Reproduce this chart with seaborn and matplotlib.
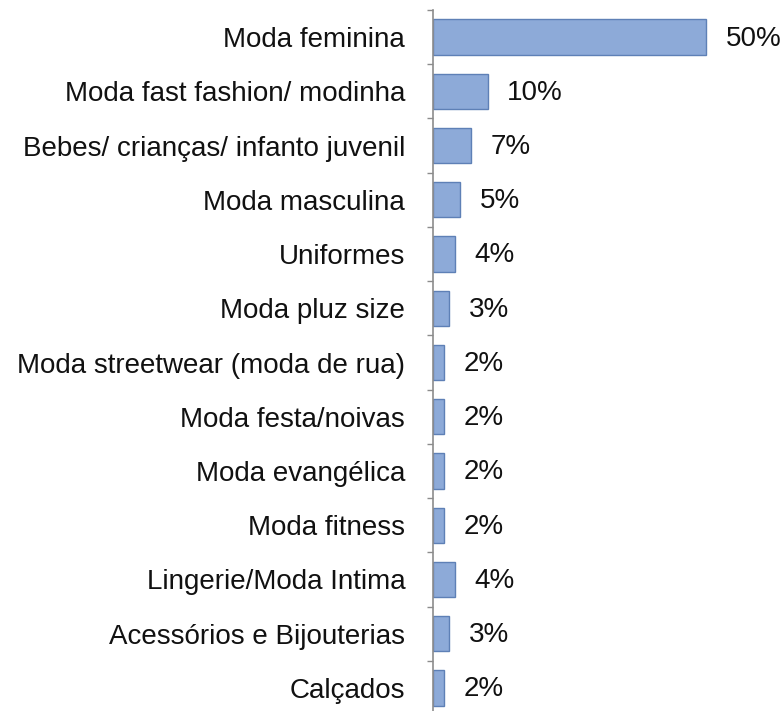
import matplotlib
matplotlib.use("Agg")
import matplotlib.pyplot as plt
import seaborn as sns
import pandas as pd

categorias = [
    "Moda feminina",
    "Moda fast fashion/ modinha",
    "Bebes/ crianças/ infanto juvenil",
    "Moda masculina",
    "Uniformes",
    "Moda pluz size",
    "Moda streetwear (moda de rua)",
    "Moda festa/noivas",
    "Moda evangélica",
    "Moda fitness",
    "Lingerie/Moda Intima",
    "Acessórios e Bijouterias",
    "Calçados",
]
percentuais = [50, 10, 7, 5, 4, 3, 2, 2, 2, 2, 4, 3, 2]
rotulos = [f"{v}%" for v in percentuais]

df = pd.DataFrame({"categoria": categorias, "pct": percentuais})

sns.set_theme(style="white")
plt.rcParams["font.family"] = ["Liberation Sans", "DejaVu Sans"]

fig = plt.figure(figsize=(7.84, 7.11), dpi=100)
ax = fig.add_axes([433 / 784, -4 / 711, 351 / 784, 705 / 711])

sns.barplot(data=df, x="pct", y="categoria", orient="h", ax=ax,
            color="#8DAAD8", edgecolor="#5E80B6", linewidth=1.0,
            width=0.65, saturation=1)

ax.set_xlim(0, 351 / 5.46)
ax.set_ylim(len(categorias) - 0.5, -0.5)
ax.set_xlabel("")
ax.set_ylabel("")
ax.set_xticks([])

# category ticks sit between bars
ax.set_yticks([i + 0.5 for i in range(-1, len(categorias))], minor=True)
ax.tick_params(axis="y", which="minor", left=True, length=4, width=1,
               color="#8C8C8C", direction="out")
ax.tick_params(axis="y", which="major", left=False, length=0, pad=20,
               labelsize=20, labelcolor="#111111")

for side in ["top", "right", "bottom"]:
    ax.spines[side].set_visible(False)
ax.spines["left"].set_color("#8C8C8C")
ax.spines["left"].set_linewidth(1.2)

for i, (v, t) in enumerate(zip(percentuais, rotulos)):
    ax.annotate(t, xy=(v, i), xytext=(14, -1), textcoords="offset points",
                va="center", ha="left", fontsize=20, color="#111111",
                annotation_clip=False)

fig.savefig("out.png", dpi=100)
